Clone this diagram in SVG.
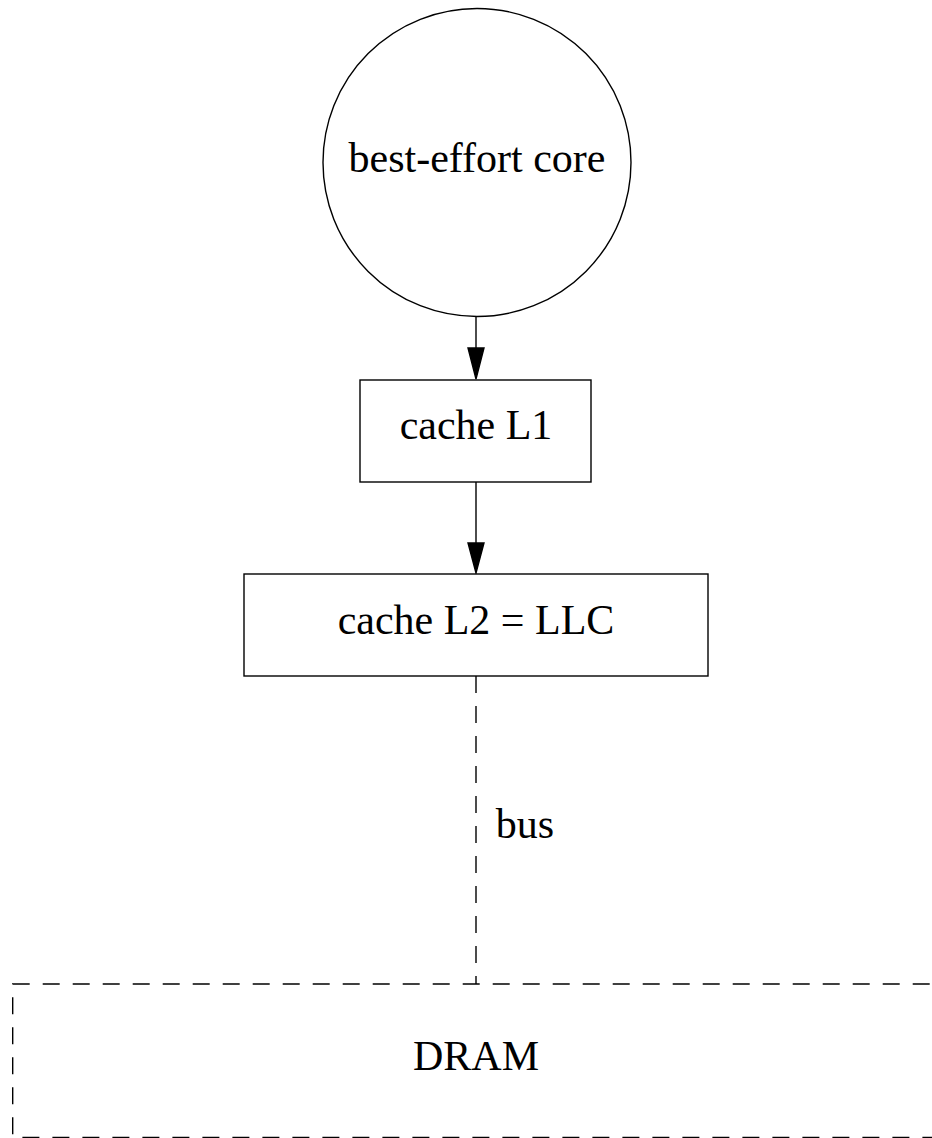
<svg xmlns="http://www.w3.org/2000/svg" width="932" height="1138" viewBox="0 0 932 1138">
<style>
.n{fill:#fff;stroke:#000;stroke-width:1.4}
.d{fill:none;stroke:#000;stroke-width:1.4;stroke-dasharray:17,13}
.t{font-family:"Liberation Serif","Times New Roman",serif;font-size:42px;fill:#000;text-anchor:middle}
.e{stroke:#000;stroke-width:1.4;fill:none}
.h{fill:#000;stroke:#000;stroke-width:1.4}
</style>
<rect width="932" height="1138" fill="#fff"/>
<g id="edges">
<line class="e" x1="476" y1="316" x2="476" y2="348"/>
<polygon class="h" points="468,348 484,348 476,379"/>
<line class="e" x1="476" y1="482" x2="476" y2="543"/>
<polygon class="h" points="468,543 484,543 476,573"/>
<line class="d" x1="476" y1="676" x2="476" y2="984"/>
<text class="t" x="525" y="838">bus</text>
</g>
<g id="core">
<circle class="n" cx="477" cy="162.5" r="154"/>
<text class="t" x="477" y="172">best-effort core</text>
</g>
<g id="l1">
<rect class="n" x="360" y="380" width="231" height="102"/>
<text class="t" x="476" y="439">cache L1</text>
</g>
<g id="l2">
<rect class="n" x="244" y="574" width="464" height="102"/>
<text class="t" x="476" y="634">cache L2 = LLC</text>
</g>
<g id="dram">
<rect class="d" x="12.7" y="984" width="926.6" height="153.5"/>
<text class="t" x="476" y="1070">DRAM</text>
</g>
</svg>
